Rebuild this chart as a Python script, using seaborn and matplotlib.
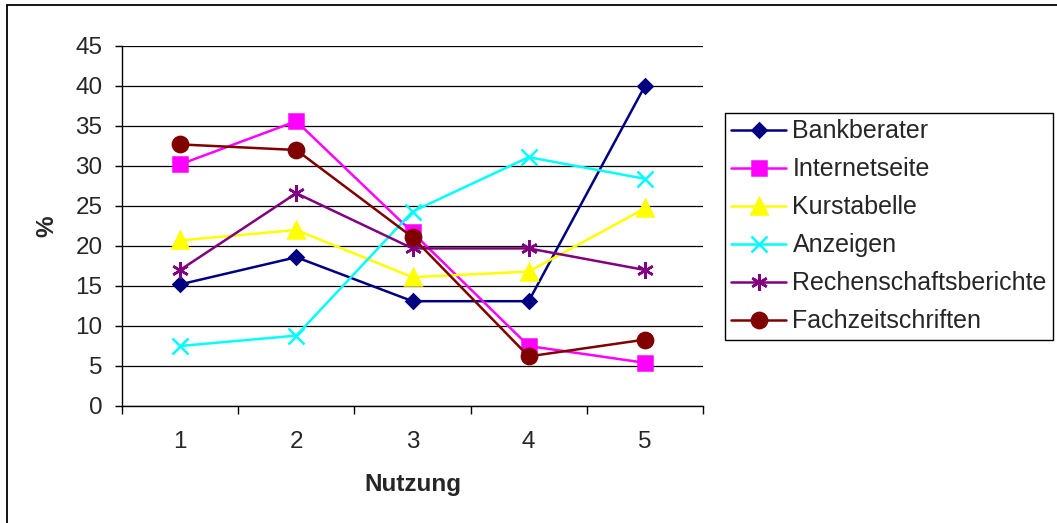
import matplotlib
matplotlib.use("Agg")
import matplotlib.pyplot as plt
import seaborn as sns
from matplotlib.patches import Rectangle
from matplotlib.ticker import FixedLocator

# values
nutzung = [1, 2, 3, 4, 5]
bankberater = [15.2, 18.6, 13.1, 13.1, 40.0]
internetseite = [30.2, 35.6, 21.7, 7.5, 5.4]
kurstabelle = [20.7, 22.0, 16.1, 16.8, 24.7]
anzeigen = [7.5, 8.8, 24.3, 31.1, 28.4]
rechenschaftsberichte = [17.0, 26.6, 19.7, 19.7, 17.0]
fachzeitschriften = [32.7, 32.0, 21.1, 6.2, 8.3]

series_names = ["Bankberater", "Internetseite", "Kurstabelle", "Anzeigen",
                "Rechenschaftsberichte", "Fachzeitschriften"]
series_values = [bankberater, internetseite, kurstabelle, anzeigen,
                 rechenschaftsberichte, fachzeitschriften]
colors = ["#000080", "#FF00FF", "#FFFF00", "#00FFFF", "#800080", "#800000"]
markers = ["D", "s", "^", "x", (6, 2, 0), "o"]
marker_sizes = [7, 10.5, 11.5, 11, 12, 11]

sns.set_style("white")
plt.rcParams["font.family"] = ["Liberation Sans", "DejaVu Sans"]
FS = 17.5

fig = plt.figure(figsize=(10.57, 5.23), dpi=100)
ax = fig.add_axes([122 / 1057, 1 - 406 / 523, 581 / 1057, 360 / 523])

for name, vals, col, mk, ms in zip(series_names, series_values, colors, markers, marker_sizes):
    sns.lineplot(x=nutzung, y=vals, ax=ax, color=col, marker=mk, markersize=ms,
                 markeredgecolor=col, markerfacecolor=col, markeredgewidth=1.8,
                 linewidth=1.8, label=name)

ax.set_xlim(0.5, 5.5)
ax.set_ylim(0, 45)
ax.set_yticks(range(0, 50, 5))
ax.set_xticks(nutzung)
ax.xaxis.set_minor_locator(FixedLocator([0.5, 1.5, 2.5, 3.5, 4.5, 5.5]))
ax.tick_params(axis="x", which="major", length=0, pad=18, labelsize=FS)
ax.tick_params(axis="x", which="minor", length=6, width=1, color="black", direction="out", bottom=True)
ax.tick_params(axis="y", which="major", length=5, width=1, color="black", direction="out",
               pad=9, labelsize=FS, left=True)

ax.yaxis.grid(True, color="black", linewidth=0.9)
ax.xaxis.grid(False)
ax.set_axisbelow(True)
for s in ["top", "right"]:
    ax.spines[s].set_visible(False)
for s in ["left", "bottom"]:
    ax.spines[s].set_color("black")
    ax.spines[s].set_linewidth(1)

ax.set_xlabel("Nutzung", fontsize=FS, fontweight="bold")
ax.set_ylabel("%", fontsize=FS, fontweight="bold")
ax.xaxis.set_label_coords(0.5, -0.185)
ax.yaxis.set_label_coords(-0.11, 0.5)

leg = ax.legend(loc="upper left", bbox_to_anchor=(725 / 1057, 1 - 113 / 523),
                bbox_transform=fig.transFigure, fontsize=18, frameon=True,
                fancybox=False, shadow=False, framealpha=1, borderpad=0.25,
                labelspacing=0.56, handlelength=2.2, handletextpad=0.25,
                borderaxespad=0)
leg.get_frame().set_edgecolor("black")
leg.get_frame().set_linewidth(1)

# outer chart border (right and bottom edges fall outside the image)
fig.patches.append(Rectangle((7 / 1057, -0.1), 1.2, 1.1 - 5 / 523,
                             transform=fig.transFigure, fill=False,
                             edgecolor="black", linewidth=1.3))

fig.savefig("out.png", dpi=100)
